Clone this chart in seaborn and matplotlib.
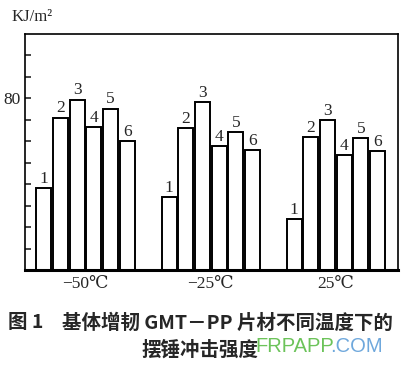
import numpy as np
import pandas as pd
import matplotlib
matplotlib.use("Agg")
import matplotlib.pyplot as plt
import seaborn as sns

temps = ["−50℃", "−25℃", "25℃"]
samples = ["1", "2", "3", "4", "5", "6"]
v_m50 = [38.2, 70.9, 79.3, 66.7, 75.1, 60.1]
v_m25 = [34.0, 66.2, 78.3, 57.8, 64.3, 55.9]
v_p25 = [23.8, 62.0, 69.9, 53.6, 61.5, 55.5]
ytick_vals = [10, 20, 30, 40, 50, 60, 70, 80, 90, 100]
ytick_labels = ["", "", "", "", "", "", "", "80", "", ""]

rows = []
for t, vals in zip(temps, [v_m50, v_m25, v_p25]):
    for s, v in zip(samples, vals):
        rows.append({"temp": t, "sample": s, "value": v})
df = pd.DataFrame(rows)

sns.set_style("white")
plt.rcParams['font.family'] = ['Liberation Serif', 'DejaVu Serif', 'Noto Sans CJK SC']

fig = plt.figure(figsize=(4.12, 3.70), dpi=100)
ax = fig.add_axes([25/412, 1-270/370, (398-25)/412, (270-34)/370])

pal = {s: "white" for s in samples}
sns.barplot(data=df, x="temp", y="value", hue="sample", order=temps,
            hue_order=samples, palette=pal, edgecolor="black", linewidth=1.4,
            width=0.8, gap=0.1, legend=False, ax=ax, errorbar=None)

for cont, s in zip(ax.containers, samples):
    ax.bar_label(cont, labels=[s]*len(cont), padding=1, fontsize=12.5,
                 family=['Liberation Serif', 'DejaVu Serif'])

ax.set_ylim(0, 110)
ax.set_xlim(-0.484, 2.496)
ax.set_yticks(ytick_vals)
ax.set_yticklabels(ytick_labels, fontsize=12.5)
ax.tick_params(axis='y', direction='in', length=4, width=1.2, pad=3, left=True)
ax.tick_params(axis='x', length=0, pad=4, labelsize=12.5)
ax.set_xlabel("")
ax.set_ylabel("")
for side in ["left", "top", "right"]:
    ax.spines[side].set_color("black")
    ax.spines[side].set_linewidth(1.2)
    ax.spines[side].set_visible(True)
ax.spines["bottom"].set_color("black")
ax.spines["bottom"].set_linewidth(2.2)
ax.spines["bottom"].set_visible(True)

fig.text(12/412, 1-17/370, "KJ/m²", fontsize=12, va="center", ha="left",
         family=['Liberation Serif', 'DejaVu Serif'])

cap_fam = ['Noto Sans CJK SC', 'DejaVu Sans']
fig.text(8/412, 1-323/370, "图 1", fontsize=14, va="center", ha="left",
         family=cap_fam, weight="bold")
fig.text(62/412, 1-323/370, "基体增韧 GMT－PP 片材不同温度下的", fontsize=14,
         va="center", ha="left", family=cap_fam, weight="bold")
fig.text(200/412, 1-350/370, "摆锤冲击强度", fontsize=14, va="center",
         ha="center", family=cap_fam, weight="bold")

fig.text(255/412, 1-347/370, "FRPAPP", fontsize=14.5, va="center", ha="left",
         color="#6cc35a", family=['Liberation Sans', 'DejaVu Sans'])
fig.text(330/412, 1-347/370, ".COM", fontsize=14.5, va="center", ha="left",
         color="#6fa8dc", family=['Liberation Sans', 'DejaVu Sans'])

fig.savefig("out.png", dpi=100)
